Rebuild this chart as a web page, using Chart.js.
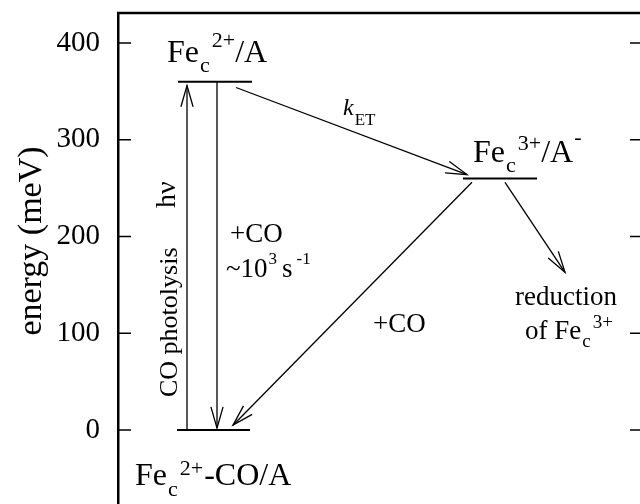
<!DOCTYPE html>
<html>
<head>
<meta charset="utf-8">
<script src="https://cdn.jsdelivr.net/npm/chart.js@4.4.1/dist/chart.umd.min.js"></script>
<style>
  html, body { margin: 0; padding: 0; background: #fff; overflow: hidden; }
  #wrap { position: absolute; left: 0; top: 0; width: 650px; height: 530px; }
</style>
</head>
<body>
<div id="wrap"><canvas id="diagram" width="650" height="530"></canvas></div>
<script>
// Données du diagramme d'énergie (meV)
var yTicks = [0, 100, 200, 300, 400];

// niveaux : Fe2+-CO/A, Fe2+/A, Fe3+/A-
var levelEnergy = [0, 360, 260];
var levelXStart = [59, 60, 345];
var levelXEnd = [132, 134, 419];

// flèches : hv, +CO (rapide), kET, +CO, réduction
var arrowX0 = [69, 99, 118, 354, 387];
var arrowY0 = [0, 360, 354, 256, 256];
var arrowX1 = [69, 99, 349, 115, 447];
var arrowY1 = [356, 2, 264, 5, 163];

var SERIF = '"Liberation Serif", "Times New Roman", serif';

// Construire les datasets
function buildDatasets() {
    var sets = [];
    for (var i = 0; i < levelEnergy.length; i++) {
        sets.push({
            data: [{ x: levelXStart[i], y: levelEnergy[i] }, { x: levelXEnd[i], y: levelEnergy[i] }],
            borderColor: '#000',
            borderWidth: 2,
            pointRadius: 0
        });
    }
    for (var j = 0; j < arrowX0.length; j++) {
        sets.push({
            data: [{ x: arrowX0[j], y: arrowY0[j] }, { x: arrowX1[j], y: arrowY1[j] }],
            borderColor: '#000',
            borderWidth: 1.3,
            pointRadius: 0,
            arrow: true
        });
    }
    return sets;
}

// Texte avec indices / exposants
function drawParts(ctx, x, y, parts) {
    parts.forEach(function (p) {
        ctx.font = (p.italic ? 'italic ' : '') + p.size + 'px ' + SERIF;
        x += (p.dx || 0);
        ctx.fillText(p.t, x, y + (p.dy || 0));
        x += ctx.measureText(p.t).width;
    });
}

function drawRotated(ctx, text, x, y, size, align) {
    ctx.save();
    ctx.translate(x, y);
    ctx.rotate(-Math.PI / 2);
    ctx.font = size + 'px ' + SERIF;
    ctx.textAlign = align;
    ctx.fillText(text, 0, 0);
    ctx.restore();
}

var diagramPlugin = {
    id: 'diagram',
    afterDatasetsDraw: function (chart) {
        var ctx = chart.ctx;
        var area = chart.chartArea;
        var yScale = chart.scales.y;
        ctx.save();
        ctx.strokeStyle = '#000';
        ctx.fillStyle = '#000';

        // cadre supérieur
        ctx.lineWidth = 2.5;
        ctx.beginPath();
        ctx.moveTo(area.left - 1, area.top);
        ctx.lineTo(area.right, area.top);
        ctx.stroke();

        // graduations intérieures
        ctx.lineWidth = 1.5;
        yTicks.forEach(function (v) {
            var py = yScale.getPixelForValue(v);
            ctx.beginPath();
            ctx.moveTo(area.left, py);
            ctx.lineTo(area.left + 13, py);
            ctx.moveTo(area.right, py);
            ctx.lineTo(area.right - 12, py);
            ctx.stroke();
        });

        // pointes de flèches
        ctx.lineWidth = 1.3;
        chart.data.datasets.forEach(function (ds, i) {
            if (!ds.arrow) return;
            var pts = chart.getDatasetMeta(i).data;
            var p0 = pts[0], p1 = pts[1];
            var ang = Math.atan2(p1.y - p0.y, p1.x - p0.x);
            var len = 22, half = 0.28;
            ctx.beginPath();
            ctx.moveTo(p1.x - len * Math.cos(ang - half), p1.y - len * Math.sin(ang - half));
            ctx.lineTo(p1.x, p1.y);
            ctx.lineTo(p1.x - len * Math.cos(ang + half), p1.y - len * Math.sin(ang + half));
            ctx.stroke();
        });

        // textes
        ctx.textAlign = 'left';
        ctx.textBaseline = 'alphabetic';
        drawRotated(ctx, 'energy (meV)', 41, 241, 34, 'center');

        drawParts(ctx, 167, 62, [
            { t: 'Fe', size: 32 }, { t: 'c', size: 22, dy: 10, dx: 1 },
            { t: '2+', size: 22, dy: -15, dx: 2 }, { t: '/A', size: 32 }
        ]);
        drawParts(ctx, 473, 162, [
            { t: 'Fe', size: 32 }, { t: 'c', size: 22, dy: 10, dx: 1 },
            { t: '3+', size: 22, dy: -12, dx: 2 }, { t: '/A', size: 32 },
            { t: '-', size: 22, dy: -18, dx: 1 }
        ]);
        drawParts(ctx, 343, 115, [
            { t: 'k', size: 24, italic: true }, { t: 'ET', size: 17, dy: 10, dx: 1 }
        ]);

        ctx.font = '27px ' + SERIF;
        ctx.fillText('+CO', 230, 242);
        drawParts(ctx, 226, 277, [
            { t: '~10', size: 27 }, { t: '3', size: 17, dy: -13, dx: 1 },
            { t: 's', size: 27, dx: 5 }, { t: '-1', size: 17, dy: -13, dx: 4 }
        ]);

        drawRotated(ctx, 'CO photolysis', 177, 397, 26, 'left');
        drawRotated(ctx, 'h\u03bd', 175, 208, 28, 'left');

        ctx.font = '27px ' + SERIF;
        ctx.fillText('+CO', 373, 332);
        ctx.fillText('reduction', 515, 305);
        drawParts(ctx, 525, 339, [
            { t: 'of Fe', size: 27 }, { t: 'c', size: 19, dy: 8, dx: 1 },
            { t: '3+', size: 19, dy: -11, dx: 2 }
        ]);

        drawParts(ctx, 135, 485, [
            { t: 'Fe', size: 32 }, { t: 'c', size: 22, dy: 11, dx: 1 },
            { t: '2+', size: 22, dy: -10, dx: 2 }, { t: '-CO/A', size: 32, dx: 1 }
        ]);
        ctx.restore();
    }
};

function setupChart() {
    var ctx = document.getElementById('diagram');
    new Chart(ctx, {
        type: 'line',
        data: { datasets: buildDatasets() },
        options: {
            responsive: false,
            animation: false,
            devicePixelRatio: 1,
            layout: { padding: { left: 0, top: 13, right: 8, bottom: 10 } },
            plugins: { legend: { display: false }, tooltip: { enabled: false } },
            scales: {
                x: { type: 'linear', min: 0, max: 524, display: false },
                y: {
                    type: 'linear',
                    min: -93,
                    max: 431,
                    grid: { display: false, drawTicks: false },
                    border: { display: true, color: '#000', width: 2.5 },
                    ticks: {
                        color: '#000',
                        padding: 18,
                        font: { family: SERIF, size: 29 }
                    },
                    afterBuildTicks: function (scale) {
                        scale.ticks = yTicks.map(function (v) { return { value: v }; });
                    },
                    afterFit: function (scale) {
                        scale.width = 118;
                        scale.paddingTop = 0;
                        scale.paddingBottom = 0;
                    }
                }
            }
        },
        plugins: [diagramPlugin]
    });
}

setupChart();
</script>
</body>
</html>
